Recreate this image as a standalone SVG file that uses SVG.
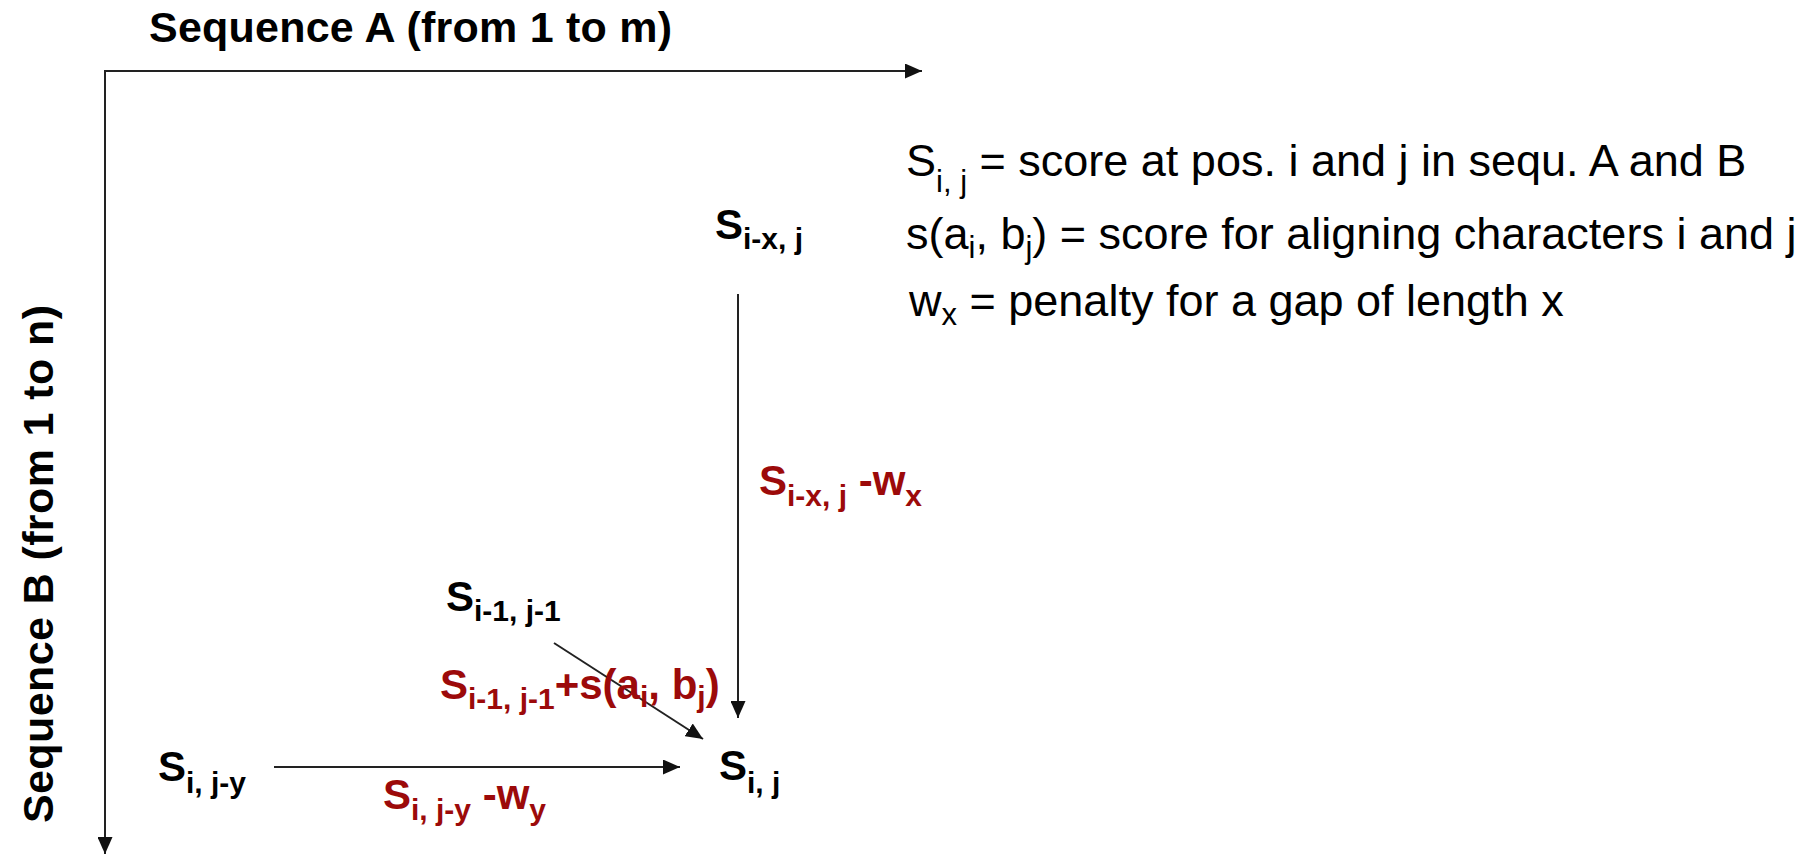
<svg xmlns="http://www.w3.org/2000/svg" width="1805" height="855" viewBox="0 0 1805 855">
<style>
  text { font-family: "Liberation Sans", Arial, sans-serif; }
  .title { font-size: 43px; font-weight: bold; fill: #000; }
  .leg { font-size: 45px; fill: #000; }
  .legsub { font-size: 31px; }
  .node { font-size: 42px; font-weight: bold; fill: #000; }
  .red { fill: #9c0a0a; }
  .sub { font-size: 30px; }
  .line { stroke: #222; stroke-width: 2; fill: none; }
</style>
<defs>
  <marker id="arr" viewBox="0 0 17 15" refX="17" refY="7.5" markerWidth="17" markerHeight="15" markerUnits="userSpaceOnUse" orient="auto">
    <path d="M0,0 L17,7.5 L0,15 Z" fill="#111"/>
  </marker>
</defs>
<rect width="1805" height="855" fill="#fff"/>

<g id="axes">
  <text class="title" x="149" y="42" textLength="523" lengthAdjust="spacing">Sequence A (from 1 to m)</text>
  <text class="title" transform="translate(53,823) rotate(-90)" x="0" y="0" textLength="518" lengthAdjust="spacing">Sequence B (from 1 to n)</text>
</g>

<g id="legend">
  <text class="leg" x="906" y="176">S<tspan class="legsub" dy="16">i, j</tspan><tspan dy="-16"> = score at pos. i and j in sequ. A and B</tspan></text>
  <text class="leg" x="906" y="249">s(a<tspan class="legsub" dy="9">i</tspan><tspan dy="-9">, b</tspan><tspan class="legsub" dy="9">j</tspan><tspan dy="-9">) = score for aligning characters i and j</tspan></text>
  <text class="leg" x="909" y="316">w<tspan class="legsub" dy="9">x</tspan><tspan dy="-9"> = penalty for a gap of length x</tspan></text>
</g>

<g id="connectors">
  <line class="line" x1="105" y1="71" x2="922" y2="71" marker-end="url(#arr)"/>
  <line class="line" x1="105" y1="70" x2="105" y2="854" marker-end="url(#arr)"/>
  <line class="line" x1="738" y1="294" x2="738" y2="718" marker-end="url(#arr)"/>
  <line class="line" x1="554" y1="643" x2="703" y2="739" marker-end="url(#arr)"/>
  <line class="line" x1="274" y1="767" x2="680" y2="767" marker-end="url(#arr)"/>
</g>

<g id="node-s-ix-j">
  <text class="node" x="715" y="239">S<tspan class="sub" dy="10">i-x, j</tspan></text>
</g>
<g id="node-s-i1-j1">
  <text class="node" x="446" y="611">S<tspan class="sub" dy="10">i-1, j-1</tspan></text>
</g>
<g id="node-s-i-jy">
  <text class="node" x="158" y="781">S<tspan class="sub" dy="12">i, j-y</tspan></text>
</g>
<g id="node-s-i-j">
  <text class="node" x="719" y="780">S<tspan class="sub" dy="13">i, j</tspan></text>
</g>

<g id="label-vertical">
  <text class="node red" x="759" y="495">S<tspan class="sub" dy="11">i-x, j</tspan><tspan dy="-11"> -w</tspan><tspan class="sub" dy="11">x</tspan></text>
</g>
<g id="label-diagonal">
  <text class="node red" x="440" y="699">S<tspan class="sub" dy="10">i-1, j-1</tspan><tspan dy="-10">+s(a</tspan><tspan class="sub" dy="8">i</tspan><tspan dy="-8">, b</tspan><tspan class="sub" dy="8">j</tspan><tspan dy="-8">)</tspan></text>
</g>
<g id="label-horizontal">
  <text class="node red" x="383" y="809">S<tspan class="sub" dy="11">i, j-y</tspan><tspan dy="-11"> -w</tspan><tspan class="sub" dy="11">y</tspan></text>
</g>
</svg>
